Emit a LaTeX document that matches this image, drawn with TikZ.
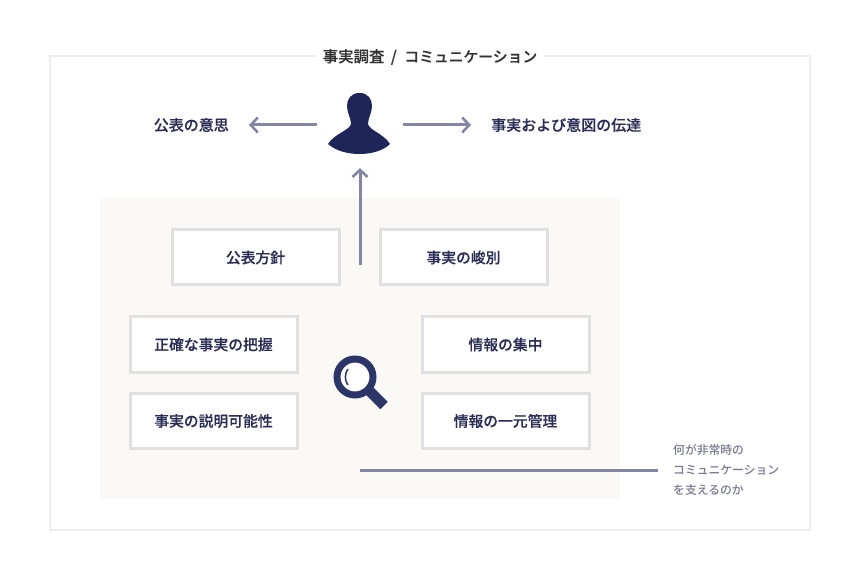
\documentclass[tikz,border=0pt]{standalone}
\usepackage{fontspec}
\setmainfont{Noto Sans CJK JP}
\newfontfamily\mediumfont[FakeBold=0.25]{Noto Sans CJK JP Medium}
\newfontfamily\notefont{Noto Sans CJK JP Medium}
\definecolor{navy}{HTML}{1F2559}
\definecolor{lensblue}{HTML}{2C3568}
\definecolor{inkblue}{HTML}{2B2D54}
\definecolor{flowgrey}{HTML}{8484A4}
\definecolor{framegrey}{HTML}{EDEDED}
\definecolor{boxgrey}{HTML}{E0E0E0}
\definecolor{paper}{HTML}{FBF9F6}
\definecolor{notegrey}{HTML}{77778F}
\tikzset{
    itembox/.style={draw=boxgrey, line width=3pt, fill=white, minimum width=167pt, minimum height=55pt,
        inner sep=0pt, text=inkblue, font=\fontsize{14.8}{18}\selectfont\mediumfont},
    sidelabel/.style={inner sep=0pt, text=inkblue, font=\fontsize{15}{18}\selectfont\mediumfont},
    flow/.style={draw=flowgrey, line width=3pt},
    flowarrow/.style={flow, -{Straight Barb[length=7pt,width=15pt,line width=2.6pt]}},
}
\usetikzlibrary{arrows.meta}
\begin{document}
\begin{tikzpicture}[x=1pt, y=-1pt]
    \useasboundingbox (0,0) rectangle (860,580);

    % Outer frame and title
    \draw[framegrey, line width=1.2pt] (50,56) rectangle (810,530);
    \node[fill=white, inner xsep=7pt, inner ysep=2pt, text=black!80, font=\fontsize{15}{18}\selectfont\mediumfont] (title) at (430,57) {\fontsize{15.4}{18}\selectfont 事実調査\hspace{3pt} / \hspace{4pt}\fontsize{14.8}{18}\selectfont コミュニケーション};

    % Background area
    \fill[paper] (100,198) rectangle (620,499);

    % Person
    \node[minimum width=86pt, minimum height=86pt, inner sep=0pt] (person) at (360,125) {};
    \fill[navy] (359.5,93) .. controls (351,93) and (347,99) .. (347,106)
        .. controls (347,113) and (351,118) .. (351,124)
        .. controls (350,130) and (334,134) .. (328,144)
        .. controls (336,151) and (348,154) .. (359.5,154)
        .. controls (371,154) and (383,151) .. (390,144)
        .. controls (384,134) and (369,130) .. (368,124)
        .. controls (368,118) and (372,113) .. (372,106)
        .. controls (372,99) and (368,93) .. (359.5,93) -- cycle;

    % Labels beside the person
    \node[sidelabel, anchor=east] (intention) at (229,125) {公表の意思};
    \node[sidelabel, anchor=west] (message) at (491,125) {事実および意図の伝達};
    \draw[flowarrow, shorten >=20pt] (person.west) -- (intention.east);
    \draw[flowarrow, shorten >=20pt] (person.east) -- (message.west);

    % Boxes
    \node[itembox] (policy) at (255.5,257.5) {公表方針};
    \node[itembox] (sorting) at (463.5,257.5) {事実の峻別};
    \node[itembox] (grasp) at (213.5,344.5) {正確な事実の把握};
    \node[itembox] (account) at (213.5,421) {事実の説明可能性};
    \node[itembox] (gather) at (505.5,344.5) {情報の集中};
    \node[itembox] (manage) at (505.5,421) {情報の一元管理};

    % Arrow up to the person
    \coordinate (upstart) at (360,265);
    \draw[flowarrow] (upstart) -- (person.south);

    % Magnifier
    \draw[lensblue, line width=10.5pt] (369.5,391) -- (384,405.5);
    \draw[lensblue, fill=white, line width=7pt] (355,377) circle (18);
    \draw[lensblue, line width=1.5pt] (348,369) .. controls (344.5,373) and (344.5,381) .. (348,385);

    % Note and its line
    \node[inner sep=0pt, anchor=west, align=left, text=notegrey, font=\fontsize{11.8}{20}\selectfont\notefont] (note) at (673,470) {何が非常時の\\コミュニケーション\\を支えるのか};
    \coordinate (linestart) at (360,470);
    \draw[flow, shorten >=15pt] (linestart) -- (note.west);
\end{tikzpicture}
\end{document}
